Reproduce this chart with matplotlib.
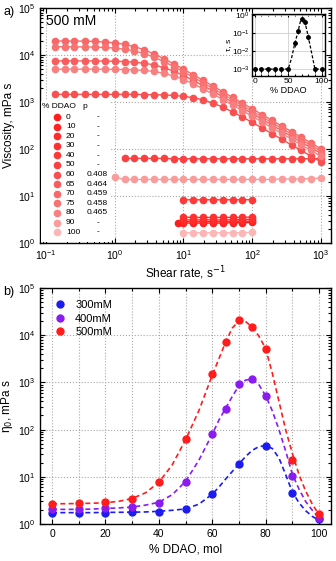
import numpy as np
import matplotlib.pyplot as plt
from matplotlib.patches import Rectangle
from matplotlib.ticker import MultipleLocator, LogLocator, NullFormatter

# ---- panel a: flow curves at 500 mM ----
shear_full = [0.135, 0.19, 0.26, 0.37, 0.52, 0.72, 1.0, 1.39, 1.93, 2.68, 3.73, 5.18, 7.2, 10,
              13.9, 19.3, 26.8, 37.3, 51.8, 72, 100, 139, 193, 268, 373, 518, 720, 1000]
eta_60 = [1450, 1450, 1450, 1450, 1450, 1450, 1450, 1450, 1450, 1440, 1430, 1415, 1380, 1320,
          1240, 1105, 948, 778, 614, 480, 369, 281, 213, 162, 122, 93, 70, 53]
eta_65 = [7500, 7500, 7480, 7480, 7470, 7430, 7370, 7250, 7030, 6680, 6170, 5400, 4530, 3660,
          2880, 2230, 1710, 1300, 990, 748, 566, 428, 324, 245, 185, 140, 106, 80]
eta_70 = [19900, 19800, 19800, 19700, 19400, 18900, 18100, 16900, 15100, 12900, 10500, 8370, 6500, 4990,
          3800, 2890, 2190, 1650, 1250, 947, 716, 541, 409, 310, 234, 177, 134, 101]
eta_75 = [15000, 15000, 14900, 14900, 14700, 14500, 14000, 13300, 12300, 10700, 8990, 7240, 5690, 4400,
          3370, 2560, 1950, 1470, 1110, 843, 637, 481, 364, 275, 208, 157, 119, 90]
eta_80 = [5000, 5000, 5000, 5000, 4990, 4980, 4950, 4910, 4830, 4690, 4460, 4100, 3580, 3010,
          2430, 1910, 1480, 1130, 863, 655, 495, 375, 283, 215, 162, 123, 93, 70]

shear_50 = [1.39, 1.93, 2.68, 3.73, 5.18, 7.2, 10, 13.9, 19.3, 26.8, 37.3, 51.8, 72, 100,
            139, 193, 268, 373, 518, 720, 1000]
eta_50 = [63, 63, 63, 63, 63, 62, 62, 62, 62, 62, 62, 62, 62, 62, 62, 62, 62, 62, 62, 62, 63]
shear_90 = [1.0, 1.39, 1.93, 2.68, 3.73, 5.18, 7.2, 10, 13.9, 19.3, 26.8, 37.3, 51.8, 72, 100,
            139, 193, 268, 373, 518, 720, 1000]
eta_90 = [25, 22.5, 22.5, 22.5, 22.5, 22.5, 22.5, 22.5, 22.5, 22.5, 22.5, 22.5, 22.5, 22.5, 22.5,
          22.5, 22.5, 23, 23, 23, 23.5, 24]
shear_low = [10, 13.9, 19.3, 26.8, 37.3, 51.8, 72, 100]
shear_0 = [8.2, 10, 13.9, 19.3, 26.8, 37.3, 51.8, 72, 100]
eta_0 = [2.6, 2.65, 2.65, 2.65, 2.65, 2.65, 2.7, 2.7, 2.75]
eta_10 = [2.85, 2.85, 2.85, 2.85, 2.85, 2.85, 2.9, 2.9]
eta_20 = [3.1, 3.1, 3.1, 3.1, 3.1, 3.1, 3.15, 3.2]
eta_30 = [3.55, 3.5, 3.5, 3.5, 3.5, 3.5, 3.5, 3.6]
eta_40 = [8.3, 8.3, 8.3, 8.3, 8.3, 8.3, 8.3, 8.4]
eta_100 = [1.65, 1.65, 1.65, 1.65, 1.65, 1.65, 1.65, 1.7]

ddao_labels = ['0', '10', '20', '30', '40', '50', '60', '65', '70', '75', '80', '90', '100']
p_values = ['-', '-', '-', '-', '-', '-', '0.408', '0.464', '0.459', '0.458', '0.465', '-', '-']
red_shades = ['#ff1e1e', '#ff2424', '#ff2a2a', '#ff3030', '#ff3838', '#fa4040', '#f85050', '#f85c5c',
              '#f86868', '#f87272', '#f88080', '#fb9c9c', '#fdb6b6']

# inset: relaxation time
tau_x = [0, 10, 20, 30, 40, 50, 60, 65, 70, 75, 80, 90, 100]
tau_y = [1e-3, 1e-3, 1e-3, 1e-3, 1e-3, 1e-3, 0.027, 0.13, 0.6, 0.42, 0.063, 1e-3, 1e-3]
tau_fit_x = [0, 50, 55, 60, 65, 68, 70, 72.5, 75, 80, 85, 90, 100]
tau_fit_y = [1e-3, 1e-3, 4e-3, 0.027, 0.13, 0.4, 0.6, 0.62, 0.42, 0.063, 0.008, 1e-3, 1e-3]

# ---- panel b: zero-shear viscosity ----
x_pts = [0, 10, 20, 30, 40, 50, 60, 65, 70, 75, 80, 90, 100]
eta0_500 = [2.65, 2.75, 2.9, 3.4, 7.9, 62, 1480, 7260, 21000, 15000, 5200, 22.7, 1.6]
eta0_400 = [2.05, 2.05, 2.15, 2.25, 2.8, 7.9, 80, 270, 920, 1170, 510, 10.4, 1.32]
x_pts_300 = [0, 10, 20, 30, 40, 50, 60, 70, 80, 90, 100]
eta0_300 = [1.74, 1.74, 1.74, 1.78, 1.82, 2.08, 4.3, 18.7, 45, 4.46, 1.26]

x_fit = [0, 5, 10, 15, 20, 25, 30, 35, 40, 45, 50, 55, 60, 62.5, 65, 67.5, 70, 72.5, 75, 77.5,
         80, 82.5, 85, 87.5, 90, 92.5, 95, 97.5, 100]
fit_500 = [2.69, 2.69, 2.72, 2.75, 2.82, 3.02, 3.47, 4.57, 7.59, 17.8, 60.3, 251, 1410, 3160, 7080,
           14100, 20000, 19500, 14800, 9550, 5250, 1580, 398, 100, 31.6, 11.2, 5.0, 2.63, 1.58]
fit_400 = [2.04, 2.04, 2.04, 2.07, 2.14, 2.19, 2.29, 2.51, 2.88, 4.17, 7.94, 22.4, 79.4, 158, 282,
           501, 851, 1120, 1170, 891, 525, 251, 100, 35.5, 11.5, 5.5, 3.0, 1.95, 1.35]
fit_300 = [1.74, 1.74, 1.74, 1.74, 1.76, 1.77, 1.78, 1.8, 1.86, 1.95, 2.09, 2.63, 4.27, 6.03, 8.91,
           12.9, 18.6, 26.9, 36.3, 43.7, 45.7, 39.8, 25.1, 11.2, 4.79, 2.82, 1.91, 1.45, 1.2]
conc_labels = ['300mM', '400mM', '500mM']
conc_colors = ['#1c1cf0', '#8a1cf0', '#ff1c1c']

plt.rcParams['font.family'] = 'Liberation Sans'
plt.rcParams['mathtext.fontset'] = 'dejavusans'

fig = plt.figure(figsize=(3.36, 5.61), dpi=100)


def style_axes(ax, fs=7.5):
    ax.tick_params(which='both', direction='in', top=True, right=True, labelsize=fs, width=0.8)
    ax.tick_params(which='major', length=3.5)
    ax.tick_params(which='minor', length=2)
    for s in ax.spines.values():
        s.set_linewidth(1.0)
    ax.set_axisbelow(True)


# panel a
ax = fig.add_axes([40 / 336, 1 - 243 / 561, 291 / 336, 235 / 561])
series = [(shear_0, eta_0), (shear_low, eta_10), (shear_low, eta_20), (shear_low, eta_30),
          (shear_low, eta_40), (shear_50, eta_50), (shear_full, eta_60), (shear_full, eta_65),
          (shear_full, eta_70), (shear_full, eta_75), (shear_full, eta_80), (shear_90, eta_90),
          (shear_low, eta_100)]
for (xs, ys), c in zip(series, red_shades):
    ax.plot(xs, ys, '-o', color=c, lw=1.0, ms=4.5, mec=c, zorder=2)
ax.set_xscale('log')
ax.set_yscale('log')
ax.set_xlim(0.082, 1400)
ax.set_ylim(1, 1e5)
ax.yaxis.set_minor_locator(LogLocator(base=10, subs=np.arange(2, 10)))
ax.yaxis.set_minor_formatter(NullFormatter())
ax.xaxis.set_minor_locator(LogLocator(base=10, subs=np.arange(2, 10)))
ax.xaxis.set_minor_formatter(NullFormatter())
ax.grid(True, which='major', ls=':', color='#a8a8a8', lw=0.8)
style_axes(ax)
ax.set_xlabel('Shear rate, s$^{-1}$', fontsize=8.5, labelpad=2)
ax.set_ylabel('Viscosity, mPa s', fontsize=8.5, labelpad=2)
ax.text(0.02, 0.975, '500 mM', transform=ax.transAxes, fontsize=10, va='top', ha='left')

# legend block
ax.add_patch(Rectangle((0.004, 0.004), 0.236, 0.60, transform=ax.transAxes, fc='white',
                       ec='none', zorder=3))
ax.text(0.008, 0.579, '% DDAO', transform=ax.transAxes, fontsize=6, va='center', zorder=4)
ax.text(0.155, 0.579, 'p', transform=ax.transAxes, fontsize=6, va='center', ha='center', zorder=4)
for i, (lab, pv, c) in enumerate(zip(ddao_labels, p_values, red_shades)):
    yy = 0.536 - i * 0.0408
    ax.plot([0.058], [yy], 'o', color=c, ms=4.5, transform=ax.transAxes, zorder=4, clip_on=False)
    ax.text(0.089, yy, lab, transform=ax.transAxes, fontsize=6, va='center', zorder=4)
    ax.text(0.198, yy, pv, transform=ax.transAxes, fontsize=6, va='center', ha='center', zorder=4)

# inset
axi = fig.add_axes([252 / 336, 1 - 76 / 561, 73 / 336, 62 / 561])
axi.plot(tau_fit_x, tau_fit_y, '--', color='black', lw=0.9, dashes=(2.5, 1.5))
tau_err = [v * 0.35 for v in tau_y]
axi.errorbar(tau_x, tau_y, yerr=[tau_err, tau_err], fmt='o', color='black', ms=2.5,
             elinewidth=0.6, capsize=0)
axi.set_yscale('log')
axi.set_xlim(-4, 105)
axi.set_ylim(10 ** -3.38, 10 ** 0.05)
axi.set_xticks([0, 50, 100])
axi.yaxis.set_major_locator(LogLocator(base=10, numticks=10))
axi.yaxis.set_minor_formatter(NullFormatter())
axi.grid(True, which='major', ls='-', color='#cfcfcf', lw=0.6)
axi.xaxis.set_minor_locator(MultipleLocator(10))
style_axes(axi, fs=6)
axi.tick_params(which='major', length=2.5, pad=1.5)
axi.tick_params(which='minor', length=1.5)
axi.set_xlabel('% DDAO', fontsize=6.5, labelpad=1)
axi.set_ylabel('τ, s', fontsize=6, labelpad=0)

# panel b
bx = fig.add_axes([40 / 336, 1 - 524 / 561, 291 / 336, 236 / 561])
for xs, ys, fit, c, lab in [(x_pts_300, eta0_300, fit_300, conc_colors[0], conc_labels[0]),
                            (x_pts, eta0_400, fit_400, conc_colors[1], conc_labels[1]),
                            (x_pts, eta0_500, fit_500, conc_colors[2], conc_labels[2])]:
    bx.plot(x_fit, fit, '--', color=c, lw=1.2, dashes=(3, 2))
    bx.plot(xs, ys, 'o', color=c, ms=5, label=lab)
bx.set_yscale('log')
bx.set_xlim(-4.5, 104.5)
bx.set_ylim(1, 1e5)
bx.xaxis.set_major_locator(MultipleLocator(20))
bx.xaxis.set_minor_locator(MultipleLocator(10))
bx.yaxis.set_minor_locator(LogLocator(base=10, subs=np.arange(2, 10)))
bx.yaxis.set_minor_formatter(NullFormatter())
bx.grid(True, which='both', axis='x', ls=':', color='#a8a8a8', lw=0.8)
bx.grid(True, which='major', axis='y', ls=':', color='#a8a8a8', lw=0.8)
style_axes(bx)
bx.set_xlabel('% DDAO, mol', fontsize=8.5, labelpad=3)
bx.set_ylabel('η$_0$, mPa s', fontsize=8.5, labelpad=2)
bx.legend(loc='upper left', bbox_to_anchor=(0.01, 0.99), frameon=False, fontsize=8,
          handlelength=1.2, handletextpad=0.8, labelspacing=0.3)

fig.text(3 / 336, 1 - 12 / 561, 'a)', fontsize=9, va='center')
fig.text(3 / 336, 1 - 292 / 561, 'b)', fontsize=9, va='center')

fig.savefig('out.png', dpi=100)
